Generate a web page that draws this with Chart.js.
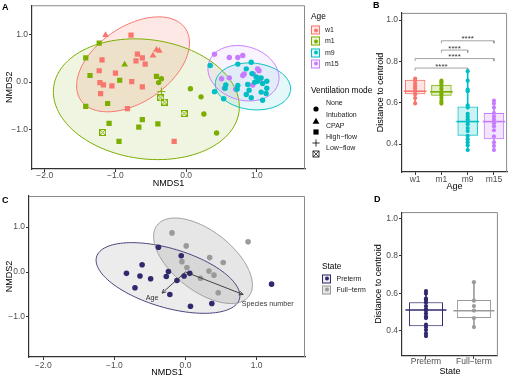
<!DOCTYPE html>
<html>
<head>
<meta charset="utf-8">
<script src="https://cdn.jsdelivr.net/npm/chart.js@4.4.1/dist/chart.umd.min.js"></script>
<style>
  body { margin: 0; background: #fff; font-family: "Liberation Sans", Arial, sans-serif; }
  #fig { position: relative; width: 520px; height: 378px; overflow: hidden; background: #fff; }
  canvas { position: absolute; }
  .txt { position: absolute; white-space: nowrap; line-height: 10px; transform: translateY(-50%); color: #000; }
  .ttl { font-size: 8.3px; }
  .lab { font-size: 7px; color: #1a1a1a; }
  .tag { font-size: 9px; font-weight: bold; }
  .key { position: absolute; width: 7px; height: 7px; border: 1px solid; transform: translateY(-50%); }
  .key i { position: absolute; left: 1.5px; top: 1.5px; width: 4px; height: 4px; border-radius: 50%; }
  .sym { position: absolute; width: 8px; height: 8px; transform: translateY(-50%); }
</style>
</head>
<body>
<div id="fig">
  <canvas id="chartA" width="310" height="192" style="left:0;top:0"></canvas>
  <canvas id="chartB" width="150" height="192" style="left:370px;top:0"></canvas>
  <canvas id="chartC" width="310" height="188" style="left:0;top:190px"></canvas>
  <canvas id="chartD" width="150" height="188" style="left:370px;top:190px"></canvas>
</div>
<script>
// ---- data ----
const ageGroups = ['w1', 'm1', 'm9', 'm15'];
const ageColors = ['#F8766D', '#7CAE00', '#00BFC4', '#C77CFF'];
const ageFills = ['rgba(248,118,109,0.17)', 'rgba(124,174,0,0.12)', 'rgba(0,191,196,0.10)', 'rgba(199,124,255,0.10)'];
const ventModes = ['None', 'Intubation', 'CPAP', 'High-flow', 'Low-flow'];

// NMDS scores, panel A: [NMDS1, NMDS2, ventilation mode]
const nmdsW1 = [
  [-1.14, 0.99, 'Intubation'], [-0.78, 0.99, 'CPAP'], [-0.69, 0.59, 'CPAP'], [-0.62, 0.51, 'CPAP'],
  [-0.71, 0.45, 'CPAP'], [-0.58, 0.38, 'CPAP'], [-0.47, 0.56, 'Intubation'], [-0.42, 0.68, 'Intubation'],
  [-0.38, 0.66, 'Intubation'], [-1.19, 0.47, 'CPAP'], [-1.23, 0.24, 'CPAP'], [-1.00, 0.19, 'CPAP'],
  [-0.77, 0.01, 'CPAP'], [-1.22, -0.01, 'CPAP'], [-1.17, -0.06, 'CPAP'], [-1.05, -0.08, 'CPAP'],
  [-0.62, -0.10, 'CPAP'], [-1.21, -0.24, 'CPAP'], [-0.83, -0.56, 'CPAP'], [-0.17, -1.25, 'CPAP']
];
const nmdsM1 = [
  [-1.23, 0.82, 'CPAP'], [-1.42, 0.51, 'CPAP'], [-0.87, 0.37, 'Intubation'], [-1.36, 0.14, 'CPAP'],
  [-0.94, 0.04, 'CPAP'], [-0.42, 0.12, 'CPAP'], [-0.35, 0.07, 'None'], [-0.39, -0.01, 'None'],
  [-1.11, -0.45, 'CPAP'], [-1.42, -0.51, 'CPAP'], [-1.09, -0.87, 'CPAP'], [-0.62, -0.79, 'CPAP'],
  [-0.67, -0.95, 'CPAP'], [-0.40, -0.88, 'CPAP'], [-0.95, -1.25, 'CPAP'], [-1.18, -1.06, 'Low-flow'],
  [-0.35, -0.20, 'High-flow'], [-0.36, -0.33, 'Low-flow'], [-0.31, -0.42, 'Low-flow'], [-0.03, -0.66, 'Low-flow'],
  [0.06, -0.14, 'None'], [0.21, -0.31, 'None'], [0.25, -0.67, 'None'], [0.43, -1.07, 'None']
];
const nmdsM9 = [
  [0.34, 0.35, 'None'], [0.73, 0.38, 'None'], [0.92, 0.42, 'None'], [0.85, 0.28, 'None'],
  [0.93, 0.18, 'None'], [0.99, 0.11, 'None'], [1.06, 0.09, 'None'], [0.97, 0.00, 'None'],
  [1.01, 0.02, 'None'], [1.14, 0.02, 'None'], [0.56, -0.06, 'None'], [0.73, -0.07, 'None'],
  [0.87, -0.05, 'None'], [1.08, -0.03, 'None'], [0.72, -0.15, 'None'], [0.89, -0.17, 'None'],
  [0.55, -0.13, 'None'], [0.40, -0.20, 'None'], [0.85, -0.26, 'None'], [1.06, -0.21, 'None'],
  [1.14, -0.13, 'None'], [1.13, -0.24, 'None'], [0.92, -0.33, 'None'], [0.53, -0.35, 'None'],
  [1.08, -0.38, 'None']
];
const nmdsM15 = [
  [0.40, 0.59, 'None'], [0.61, 0.52, 'None'], [0.73, 0.52, 'None'], [0.80, 0.56, 'None'],
  [1.01, 0.28, 'None'], [1.03, 0.24, 'None'], [0.95, 0.17, 'None'], [0.82, 0.17, 'None'],
  [0.80, 0.14, 'None'], [1.02, 0.09, 'None'], [1.05, 0.07, 'None'], [0.50, 0.07, 'None'],
  [0.61, 0.09, 'None'], [0.70, -0.15, 'None'], [0.94, -0.06, 'None'], [0.54, -0.13, 'None']
];
// 95% ellipses: centre and two conjugate semi-axis vectors, in NMDS units
const ageEllipseCenter = [[-0.751, 0.375], [-0.563, -0.36], [0.944, -0.09], [0.81, 0.1875]];
const ageEllipseU = [[0.737, 0.760], [1.31, -0.267], [0.531, -0.083], [0.49, -0.223]];
const ageEllipseV = [[0.306, -0.65], [-0.115, -1.244], [-0.035, -0.4875], [-0.111, -0.54]];

const nmdsXTicks = [-2, -1, 0, 1];
const nmdsYTicks = [-1, 0, 1];

// panel B: distance to centroid by age
const boxQ1 = [0.641, 0.634, 0.440, 0.424];
const boxMed = [0.656, 0.653, 0.509, 0.509];
const boxQ3 = [0.711, 0.687, 0.582, 0.551];
const whiskLo = [0.597, 0.596, 0.371, 0.371];
const whiskHi = [0.717, 0.707, 0.753, 0.610];
const distW1 = [0.717, 0.707, 0.692, 0.679, 0.669, 0.656, 0.641, 0.623, 0.597];
const distM1 = [0.707, 0.700, 0.692, 0.681, 0.669, 0.656, 0.646, 0.635, 0.623, 0.608, 0.596];
const distM9 = [0.753, 0.707, 0.664, 0.656, 0.588, 0.577, 0.547, 0.534, 0.520, 0.509, 0.496, 0.478, 0.463, 0.440, 0.424, 0.409, 0.394, 0.371];
const distM15 = [0.610, 0.596, 0.577, 0.550, 0.534, 0.519, 0.501, 0.486, 0.467, 0.437, 0.409, 0.391, 0.371];
const bracketFrom = ['m1', 'm1', 'w1', 'w1'];
const bracketTo = ['m15', 'm9', 'm15', 'm9'];
const bracketY = [0.900, 0.855, 0.814, 0.768];
const bracketLabel = ['****', '****', '****', '****'];
const distTicks = [0.4, 0.6, 0.8, 1.0];

// panel C: preterm vs full-term
const stateGroups = ['Preterm', 'Full-term'];
const stateColors = ['#2f2a6e', '#9a9a9a'];
const stateFills = ['rgba(128,128,128,0.15)', 'rgba(128,128,128,0.20)'];
const nmdsPreterm = [
  [-0.83, -0.03], [-0.61, 0.16], [-0.64, -0.09], [-0.49, -0.15], [-0.71, -0.35], [-0.38, 0.55],
  [-0.06, 0.36], [-0.24, 0.01], [-0.27, -0.10], [-0.12, -0.19], [-0.02, -0.09], [0.06, -0.03],
  [-0.22, -0.50], [0.07, -0.76], [0.37, -0.70], [1.21, -0.27]
];
const nmdsFullterm = [
  [-0.19, 0.87], [0.01, 0.58], [-0.05, 0.23], [0.02, 0.10], [0.34, 0.32], [0.53, 0.21],
  [0.33, 0.02], [0.40, -0.07], [0.21, -0.14], [0.46, -0.46], [0.88, 0.67]
];
const stateEllipseCenter = [[-0.246, -0.133], [0.246, 0.25]];
const stateEllipseU = [[1.004, -0.471], [0.644, -0.793]];
const stateEllipseV = [[-0.118, -0.629], [-0.26, -0.524]];
const envfitNames = ['Age', 'Species number'];
const envfitEnd = [[-0.33, -0.47], [0.81, -0.50]];
const envfitLabelAt = [[-0.47, -0.58], [1.155, -0.71]];

// panel D: distance to centroid by state
const stQ1 = [0.424, 0.467];
const stMed = [0.510, 0.506];
const stQ3 = [0.552, 0.563];
const stLo = [0.371, 0.416];
const stHi = [0.611, 0.659];
const distPreterm = [0.611, 0.598, 0.571, 0.563, 0.550, 0.531, 0.515, 0.507, 0.491, 0.475, 0.467, 0.432, 0.419, 0.403, 0.384, 0.371];
const distFullterm = [0.659, 0.560, 0.531, 0.507, 0.467, 0.419];

// ---- shared setup ----
const FONT = "'Liberation Sans', Arial, sans-serif";
Chart.defaults.font.family = FONT;
Chart.defaults.animation = false;
Chart.defaults.events = [];
Chart.defaults.plugins.legend.display = false;
Chart.defaults.plugins.tooltip.enabled = false;

const fmt = v => Number(v).toFixed(1).replace('-', '\u2212');
const dash = s => s.replace('-', '\u2212');

function axisBase(size, pad, title, titlePad) {
  return {
    afterFit: s => { if (s.isHorizontal()) s.height = size; else s.width = size; },
    grid: { drawOnChartArea: false, drawTicks: true, tickLength: 3, color: '#333' },
    border: { display: true, color: '#333', width: 1.2 },
    ticks: { font: { size: 8.5, lineHeight: 1 }, color: '#4d4d4d', padding: pad, autoSkip: false, maxRotation: 0 },
    title: { display: true, text: title, color: '#000', font: { size: 9 }, padding: titlePad },
  };
}
function linearAxis(min, max, ticks, size, pad, title, titlePad) {
  const a = axisBase(size, pad, title, titlePad);
  a.type = 'linear';
  a.min = min;
  a.max = max;
  a.afterBuildTicks = s => { s.ticks = ticks.map(v => ({ value: v })); };
  a.ticks.callback = v => fmt(v);
  return a;
}
function categoryAxis(labels, size, pad, title, titlePad) {
  const a = axisBase(size, pad, title, titlePad);
  a.type = 'category';
  a.labels = labels;
  a.offset = true;
  a.grid.offset = false;
  a.ticks.callback = (v, i) => dash(labels[i]);
  return a;
}

const framePlugin = {
  id: 'frame',
  afterDraw(chart) {
    const { ctx, chartArea: a } = chart;
    ctx.save();
    ctx.strokeStyle = '#8a8a8a';
    ctx.lineWidth = 1;
    ctx.beginPath();
    ctx.moveTo(a.left, a.top + 0.5);
    ctx.lineTo(a.right - 0.5, a.top + 0.5);
    ctx.lineTo(a.right - 0.5, a.bottom);
    ctx.stroke();
    ctx.restore();
  }
};

function ellipsePlugin(centers, us, vs, strokes, fills) {
  return {
    id: 'ellipses',
    beforeDatasetsDraw(chart) {
      const { ctx, chartArea: a, scales: { x, y } } = chart;
      ctx.save();
      ctx.beginPath();
      ctx.rect(a.left, a.top, a.right - a.left, a.bottom - a.top);
      ctx.clip();
      const paths = centers.map((c, i) => {
        const cx = x.getPixelForValue(c[0]), cy = y.getPixelForValue(c[1]);
        const ux = x.getPixelForValue(c[0] + us[i][0]) - cx, uy = y.getPixelForValue(c[1] + us[i][1]) - cy;
        const vx = x.getPixelForValue(c[0] + vs[i][0]) - cx, vy = y.getPixelForValue(c[1] + vs[i][1]) - cy;
        const p = new Path2D();
        for (let k = 0; k <= 120; k++) {
          const t = k / 120 * Math.PI * 2;
          const px = cx + ux * Math.cos(t) + vx * Math.sin(t);
          const py = cy + uy * Math.cos(t) + vy * Math.sin(t);
          if (k) p.lineTo(px, py); else p.moveTo(px, py);
        }
        p.closePath();
        return p;
      });
      paths.forEach((p, i) => { ctx.fillStyle = fills[i]; ctx.fill(p); });
      ctx.lineWidth = 1;
      paths.forEach((p, i) => { ctx.strokeStyle = strokes[i]; ctx.stroke(p); });
      ctx.restore();
    }
  };
}

// ---- panel A ----
function lowFlowImage(color) {
  const c = document.createElement('canvas');
  c.width = 7; c.height = 7;
  const g = c.getContext('2d');
  g.strokeStyle = color;
  g.lineWidth = 1;
  g.strokeRect(0.5, 0.5, 6, 6);
  g.beginPath();
  g.moveTo(1, 1); g.lineTo(6, 6); g.moveTo(6, 1); g.lineTo(1, 6);
  g.stroke();
  return c;
}
const modeStyle = { 'None': 'circle', 'Intubation': 'triangle', 'CPAP': 'rect', 'High-flow': 'cross' };
const modeRadius = { 'None': 2.7, 'Intubation': 3.9, 'CPAP': 3.7, 'High-flow': 4, 'Low-flow': 3.5 };
const modeOf = c => (c.raw && c.raw.mode) || 'None';

const nmdsAge = [nmdsW1, nmdsM1, nmdsM9, nmdsM15];
new Chart(document.getElementById('chartA'), {
  type: 'scatter',
  data: {
    datasets: nmdsAge.map((pts, i) => {
      const img = lowFlowImage(ageColors[i]);
      return {
        label: ageGroups[i],
        data: pts.map(p => ({ x: p[0], y: p[1], mode: p[2] })),
        pointStyle: c => modeOf(c) === 'Low-flow' ? img : modeStyle[modeOf(c)],
        pointRadius: c => modeRadius[modeOf(c)],
        pointBackgroundColor: ageColors[i],
        pointBorderColor: ageColors[i],
        pointBorderWidth: c => modeOf(c) === 'High-flow' ? 1 : 0,
      };
    })
  },
  options: {
    responsive: false,
    layout: { padding: { top: 3, right: 5, left: 0, bottom: 0 } },
    scales: {
      x: linearAxis(-2.18, 1.68, nmdsXTicks, 23, -1, 'NMDS1', { top: 0, bottom: 3.2 }),
      y: linearAxis(-1.83, 1.62, nmdsYTicks, 32, 1, 'NMDS2', { top: 4.5, bottom: 0 }),
    }
  },
  plugins: [ellipsePlugin(ageEllipseCenter, ageEllipseU, ageEllipseV, ageColors, ageFills), framePlugin]
});

// ---- box plot helper (panels B and D) ----
function boxDatasets(groups, colors, fills, q1, med, q3, lo, hi, points, barPct, medRadius, ptRadius) {
  const sets = [];
  points.forEach((vals, i) => {
    sets.push({
      type: 'line', order: 0, showLine: false,
      data: vals.map(v => ({ x: groups[i], y: v })),
      pointRadius: ptRadius, pointBackgroundColor: colors[i], pointBorderWidth: 0,
    });
  });
  sets.push({
    type: 'line', order: 1, showLine: false, data: med,
    pointStyle: 'line', pointRadius: medRadius, pointBorderWidth: 1.6, pointBorderColor: colors,
  });
  sets.push({
    type: 'bar', order: 2, grouped: false, data: q1.map((q, i) => [q, q3[i]]),
    backgroundColor: fills, borderColor: colors, borderWidth: 1, borderSkipped: false,
    barPercentage: barPct, categoryPercentage: 1,
  });
  sets.push({ type: 'bar', order: 3, grouped: false, data: lo.map((w, i) => [w, q1[i]]), backgroundColor: colors, barThickness: 1 });
  sets.push({ type: 'bar', order: 3, grouped: false, data: q3.map((q, i) => [q, hi[i]]), backgroundColor: colors, barThickness: 1 });
  return sets;
}

// ---- panel B ----
const boxFillsB = ['rgba(248,118,109,0.2)', 'rgba(124,174,0,0.2)', 'rgba(0,191,196,0.2)', 'rgba(199,124,255,0.2)'];
const bSets = boxDatasets(ageGroups, ageColors, boxFillsB, boxQ1, boxMed, boxQ3, whiskLo, whiskHi,
  [distW1, distM1, distM9, distM15], 0.78, 11.3, 2.1);
const tip = 0.012;
bracketY.forEach((h, i) => {
  bSets.push({
    type: 'line', order: 0, borderColor: '#8c8c8c', borderWidth: 0.8, pointRadius: 0, fill: false,
    data: [{ x: bracketFrom[i], y: h - tip }, { x: bracketFrom[i], y: h }, { x: bracketTo[i], y: h }, { x: bracketTo[i], y: h - tip }],
  });
});
const starsPlugin = {
  id: 'stars',
  afterDatasetsDraw(chart) {
    const { ctx, scales: { x, y } } = chart;
    ctx.save();
    ctx.fillStyle = '#333';
    ctx.font = '8px ' + FONT;
    ctx.textAlign = 'center';
    ctx.textBaseline = 'alphabetic';
    bracketY.forEach((h, i) => {
      const mid = (x.getPixelForValue(ageGroups.indexOf(bracketFrom[i])) + x.getPixelForValue(ageGroups.indexOf(bracketTo[i]))) / 2;
      ctx.fillText(bracketLabel[i], mid, y.getPixelForValue(h) + 0.5);
    });
    ctx.restore();
  }
};
new Chart(document.getElementById('chartB'), {
  type: 'bar',
  data: { labels: ageGroups, datasets: bSets },
  options: {
    responsive: false,
    layout: { padding: { top: 3, right: 2, left: 0, bottom: 0 } },
    scales: {
      x: categoryAxis(ageGroups, 20, 0, 'Age', { top: 0, bottom: 0 }),
      y: linearAxis(0.265, 1.035, distTicks, 32, 1, 'Distance to centroid', { top: 5.5, bottom: 0 }),
    }
  },
  plugins: [framePlugin, starsPlugin]
});

// ---- panel C ----
const arrowPlugin = {
  id: 'envfit',
  afterDatasetsDraw(chart) {
    const { ctx, scales: { x, y } } = chart;
    const x0 = x.getPixelForValue(0), y0 = y.getPixelForValue(0);
    ctx.save();
    ctx.strokeStyle = '#333';
    ctx.fillStyle = '#333';
    ctx.lineWidth = 0.9;
    ctx.font = '7.2px ' + FONT;
    ctx.textAlign = 'center';
    ctx.textBaseline = 'middle';
    envfitEnd.forEach((e, i) => {
      const x1 = x.getPixelForValue(e[0]), y1 = y.getPixelForValue(e[1]);
      ctx.beginPath(); ctx.moveTo(x0, y0); ctx.lineTo(x1, y1); ctx.stroke();
      const ang = Math.atan2(y1 - y0, x1 - x0), L = 4.5;
      ctx.beginPath();
      ctx.moveTo(x1 - L * Math.cos(ang - 0.45), y1 - L * Math.sin(ang - 0.45));
      ctx.lineTo(x1, y1);
      ctx.lineTo(x1 - L * Math.cos(ang + 0.45), y1 - L * Math.sin(ang + 0.45));
      ctx.stroke();
      ctx.fillText(envfitNames[i], x.getPixelForValue(envfitLabelAt[i][0]), y.getPixelForValue(envfitLabelAt[i][1]));
    });
    ctx.restore();
  }
};
new Chart(document.getElementById('chartC'), {
  type: 'scatter',
  data: {
    datasets: [nmdsPreterm, nmdsFullterm].map((pts, i) => ({
      label: stateGroups[i],
      data: pts.map(p => ({ x: p[0], y: p[1] })),
      pointRadius: 2.8, pointBackgroundColor: stateColors[i], pointBorderWidth: 0,
    }))
  },
  options: {
    responsive: false,
    layout: { padding: { top: 6, right: 5, left: 0, bottom: 0 } },
    scales: {
      x: linearAxis(-2.2, 1.68, nmdsXTicks, 21, 1.5, 'NMDS1', { top: 0, bottom: 0 }),
      y: linearAxis(-1.89, 1.69, nmdsYTicks, 29, 1, 'NMDS2', { top: 4.5, bottom: 0 }),
    }
  },
  plugins: [ellipsePlugin(stateEllipseCenter, stateEllipseU, stateEllipseV, ['#4a447f', '#a0a0a0'], stateFills), arrowPlugin, framePlugin]
});

// ---- panel D ----
new Chart(document.getElementById('chartD'), {
  type: 'bar',
  data: {
    labels: stateGroups,
    datasets: boxDatasets(stateGroups, stateColors, ['rgba(255,255,255,0.6)', 'rgba(255,255,255,0.6)'],
      stQ1, stMed, stQ3, stLo, stHi, [distPreterm, distFullterm], 0.71, 20.5, 2.1)
  },
  options: {
    responsive: false,
    layout: { padding: { top: 7, right: 3, left: 0, bottom: 0 } },
    scales: {
      x: categoryAxis(stateGroups, 21, -1, 'State', { top: 0, bottom: 0 }),
      y: linearAxis(0.265, 1.033, distTicks, 32, 1, 'Distance to centroid', { top: 3.5, bottom: 0 }),
    }
  },
  plugins: [framePlugin]
});

// ---- legends and panel tags (HTML text) ----
const fig = document.getElementById('fig');
function addText(txt, left, top, cls) {
  const d = document.createElement('div');
  d.className = 'txt ' + cls;
  d.style.left = left + 'px';
  d.style.top = top + 'px';
  d.textContent = txt;
  fig.appendChild(d);
}
function addKey(left, top, border, fill) {
  const k = document.createElement('div');
  k.className = 'key';
  k.style.left = left + 'px';
  k.style.top = top + 'px';
  k.style.borderColor = border;
  k.style.background = fill;
  const dot = document.createElement('i');
  dot.style.background = border;
  k.appendChild(dot);
  fig.appendChild(k);
}
const symbolSvg = {
  'None': '<circle cx="4" cy="4" r="2.6" fill="#000"/>',
  'Intubation': '<polygon points="4,0.8 7.4,6.8 0.6,6.8" fill="#000"/>',
  'CPAP': '<rect x="1.4" y="1.4" width="5.2" height="5.2" fill="#000"/>',
  'High-flow': '<path d="M4 0.4V7.6M0.4 4H7.6" stroke="#000" stroke-width="0.8"/>',
  'Low-flow': '<rect x="1" y="1" width="6" height="6" fill="none" stroke="#000" stroke-width="0.8"/><path d="M1 1L7 7M7 1L1 7" stroke="#000" stroke-width="0.7"/>',
};

addText('A', 2, 7, 'tag');
addText('B', 373, 5, 'tag');
addText('C', 2, 200, 'tag');
addText('D', 374, 199, 'tag');

addText('Age', 311, 16, 'ttl');
const ageRows = [30, 41.3, 52.6, 63.9];
ageGroups.forEach((g, i) => {
  addKey(311, ageRows[i], ageColors[i], ageFills[i]);
  addText(g, 325, ageRows[i], 'lab');
});
addText('Ventilation mode', 311, 89.5, 'ttl');
const ventRows = [103.3, 114.5, 125.7, 136.9, 148.1];
ventModes.forEach((m, i) => {
  const s = document.createElement('div');
  s.className = 'sym';
  s.style.left = '312px';
  s.style.top = ventRows[i] + 'px';
  s.innerHTML = '<svg width="8" height="8" viewBox="0 0 8 8">' + symbolSvg[m] + '</svg>';
  fig.appendChild(s);
  addText(dash(m), 326, ventRows[i], 'lab');
});
addText('State', 322, 265.5, 'ttl');
const stateRows = [278.5, 289.5];
stateGroups.forEach((g, i) => {
  addKey(322, stateRows[i], stateColors[i], stateFills[i]);
  addText(dash(g), 336.5, stateRows[i], 'lab');
});
</script>
</body>
</html>
